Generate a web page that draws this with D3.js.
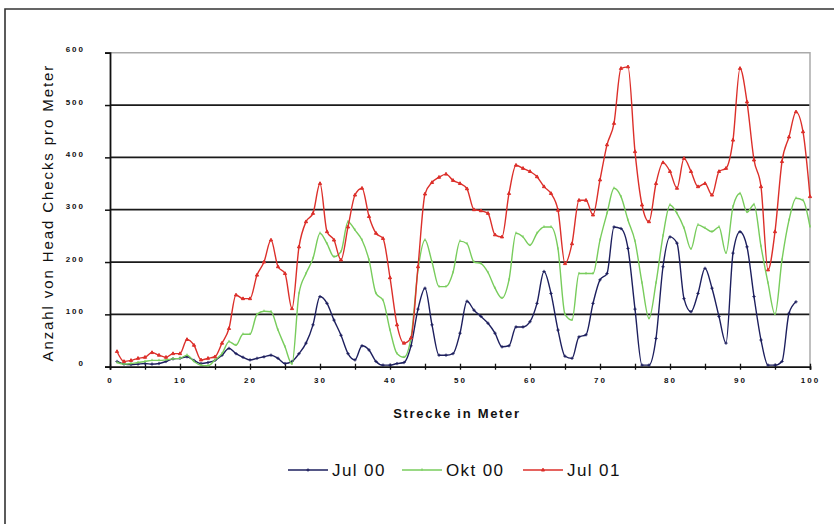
<!DOCTYPE html>
<html>
<head>
<meta charset="utf-8">
<script src="https://cdn.jsdelivr.net/npm/d3@7"></script>
<style>
  body { margin: 0; background: #fff; }
  text { font-family: "Liberation Sans", Arial, sans-serif; fill: #111; }
  .tick-label { font-size: 8px; font-weight: bold; letter-spacing: 2px; }
</style>
</head>
<body>
<div id="wrapper"></div>
<script>
// meters along the track
const meters = d3.range(1, 101)

const jul00 = [10, 5, 4, 5, 6, 5, 6, 10, 15, 16,
  19, 12, 6, 8, 12, 22, 35, 25, 18, 13,
  16, 19, 22, 16, 6, 10, 25, 45, 80, 134,
  121, 89, 60, 25, 13, 40, 32, 10, 3, 3,
  6, 8, 40, 110, 150, 80, 22, 22, 25, 64,
  125, 108, 96, 83, 64, 38, 40, 76, 76, 86,
  121, 182, 140, 70, 20, 16, 57, 61, 121, 166,
  178, 267, 264, 226, 110, 3, 3, 54, 191, 248,
  236, 130, 105, 140, 188, 150, 96, 45, 217, 258,
  229, 134, 51, 3, 3, 10, 102, 124]

const okt00 = [8, 5, 6, 8, 10, 12, 12, 13, 15, 16,
  22, 10, 3, 2, 13, 25, 48, 41, 62, 62,
  100, 106, 105, 70, 38, 5, 140, 178, 207, 255,
  235, 210, 220, 277, 261, 242, 204, 140, 127, 70,
  25, 18, 55, 185, 242, 200, 153, 153, 180, 240,
  235, 200, 197, 180, 150, 131, 166, 255, 248, 232,
  255, 267, 267, 225, 100, 89, 178, 178, 178, 242,
  293, 341, 325, 280, 240, 160, 92, 160, 250, 309,
  293, 265, 225, 271, 265, 258, 267, 217, 306, 331,
  295, 310, 230, 160, 100, 204, 280, 322, 318, 267]

const jul01 = [29, 10, 12, 16, 18, 27, 22, 18, 25, 25,
  52, 41, 13, 16, 19, 45, 73, 137, 130, 130,
  175, 200, 242, 191, 178, 111, 229, 277, 293, 350,
  258, 242, 204, 267, 328, 341, 287, 255, 245, 170,
  80, 45, 55, 191, 330, 352, 362, 368, 356, 350,
  340, 300, 298, 293, 252, 248, 331, 385, 379, 373,
  363, 344, 331, 299, 197, 235, 318, 318, 290, 357,
  424, 465, 570, 573, 411, 309, 277, 350, 390, 373,
  341, 398, 373, 344, 350, 328, 373, 379, 433, 570,
  506, 395, 344, 185, 258, 392, 439, 487, 449, 325]

const seriesNames = ["Jul 00", "Okt 00", "Jul 01"]
const xTicks = d3.range(0, 101, 10)
const yTicks = d3.range(0, 601, 100)

async function drawChart() {

  // 1. Access data
  const series = [
    { name: seriesNames[0], values: jul00, color: "#1d1f5e", symbol: "plus" },
    { name: seriesNames[1], values: okt00, color: "#78cc5c", symbol: "dash" },
    { name: seriesNames[2], values: jul01, color: "#dc2f2a", symbol: "tri" },
  ]
  const xAccessor = d => d.x
  const yAccessor = d => d.y

  // 2. Create chart dimensions
  let dimensions = {
    width: 840,
    height: 524,
    margin: {
      top: 52.7,
      right: 30,
      bottom: 157.3,
      left: 110,
    },
  }
  dimensions.boundedWidth = dimensions.width
    - dimensions.margin.left
    - dimensions.margin.right
  dimensions.boundedHeight = dimensions.height
    - dimensions.margin.top
    - dimensions.margin.bottom

  // 3. Draw canvas
  const wrapper = d3.select("#wrapper")
    .append("svg")
      .attr("width", dimensions.width)
      .attr("height", dimensions.height)

  // scanned page frame
  wrapper.append("path")
      .attr("d", "M5,524 L5,9 L834,9")
      .attr("fill", "none")
      .attr("stroke", "#333")
      .attr("stroke-width", 1.6)

  const bounds = wrapper.append("g")
    .attr("transform", `translate(${dimensions.margin.left}, ${dimensions.margin.top})`)

  // 4. Create scales
  const xScale = d3.scaleLinear()
    .domain([0, 100])
    .range([0, dimensions.boundedWidth])

  const yScale = d3.scaleLinear()
    .domain([0, 600])
    .range([dimensions.boundedHeight, 0])

  // 5. Draw peripherals (grid first)
  bounds.append("g")
    .selectAll("line")
    .data(yTicks.filter(d => d > 0 && d < 600))
    .join("line")
      .attr("x1", 0)
      .attr("x2", dimensions.boundedWidth)
      .attr("y1", d => yScale(d))
      .attr("y2", d => yScale(d))
      .attr("stroke", "#1a1a1a")
      .attr("stroke-width", 1.8)

  // light plot-area border on top and right
  bounds.append("path")
      .attr("d", `M0,0 L${dimensions.boundedWidth},0 L${dimensions.boundedWidth},${dimensions.boundedHeight}`)
      .attr("fill", "none")
      .attr("stroke", "#aaa")
      .attr("stroke-width", 1.5)

  const xAxisGenerator = d3.axisBottom()
    .scale(xScale)
    .tickValues(d3.range(0, 101, 5))
    .tickSize(3)
    .tickFormat(d => xTicks.includes(d) ? d : "")

  const xAxis = bounds.append("g")
    .attr("transform", `translate(0, ${dimensions.boundedHeight})`)
    .call(xAxisGenerator)
  xAxis.select(".domain").attr("stroke", "#111").attr("stroke-width", 1.8)
  xAxis.selectAll(".tick line")
      .attr("y1", -3)
      .attr("stroke", "#111")
      .attr("stroke-width", 1.3)
  xAxis.selectAll(".tick text")
      .attr("class", "tick-label")
      .attr("y", 11)
      .attr("fill", "#111")

  const yAxisGenerator = d3.axisLeft()
    .scale(yScale)
    .tickValues(yTicks)
    .tickSize(5)
    .tickPadding(20)

  const yAxis = bounds.append("g")
    .call(yAxisGenerator)
  yAxis.select(".domain").attr("stroke", "#111").attr("stroke-width", 1.8)
  yAxis.selectAll(".tick line").attr("stroke", "#111").attr("stroke-width", 1.5)
  yAxis.selectAll(".tick text")
      .attr("class", "tick-label")
      .attr("dy", "-0.1em")
      .attr("fill", "#111")

  bounds.append("text")
      .attr("x", 347)
      .attr("y", 365)
      .attr("text-anchor", "middle")
      .style("font-size", "13px")
      .style("font-weight", "bold")
      .style("letter-spacing", "1.7px")
      .text("Strecke in Meter")

  bounds.append("text")
      .attr("transform", "rotate(-90)")
      .attr("x", -160)
      .attr("y", -57)
      .attr("text-anchor", "middle")
      .style("font-size", "15px")
      .style("letter-spacing", "1.9px")
      .text("Anzahl von Head Checks pro Meter")

  // 6. Draw data
  const lineGenerator = d3.line()
    .x(d => xScale(xAccessor(d)))
    .y(d => yScale(yAccessor(d)))
    .curve(d3.curveMonotoneX)

  const markerPath = (type, cx, cy) => {
    if (type == "plus") return `M${cx - 1.6},${cy} h3.2 M${cx},${cy - 1.6} v3.2`
    if (type == "dash") return `M${cx},${cy - 1.6} v2.4`
    return `M${cx},${cy - 1.8} L${cx + 1.6},${cy + 1} L${cx - 1.6},${cy + 1} Z`
  }

  series.forEach(s => {
    const points = s.values.map((v, i) => ({ x: meters[i], y: v }))
    const g = bounds.append("g")
    g.append("path")
        .attr("d", lineGenerator(points))
        .attr("fill", "none")
        .attr("stroke", s.color)
        .attr("stroke-width", 1.4)
    g.selectAll(".marker")
      .data(points)
      .join("path")
        .attr("class", "marker")
        .attr("d", d => markerPath(s.symbol, xScale(d.x), yScale(d.y)))
        .attr("fill", s.color)
        .attr("stroke", s.color)
        .attr("stroke-width", 1)
  })

  // 7. Legend
  const legendStarts = [288, 402, 523]
  const legend = wrapper.append("g")
  series.forEach((s, i) => {
    const x0 = legendStarts[i]
    const row = legend.append("g").attr("transform", `translate(${x0}, 470)`)
    row.append("line")
        .attr("x1", 0)
        .attr("x2", 40)
        .attr("stroke", s.color)
        .attr("stroke-width", 1.5)
    row.append("path")
        .attr("d", markerPath(s.symbol, 20, 0))
        .attr("fill", s.color)
        .attr("stroke", s.color)
        .attr("stroke-width", 1)
    row.append("text")
        .attr("x", 44)
        .attr("y", 0)
        .attr("dy", "0.36em")
        .style("font-size", "17px")
        .style("letter-spacing", "1.4px")
        .text(s.name)
  })
}
drawChart()
</script>
</body>
</html>
